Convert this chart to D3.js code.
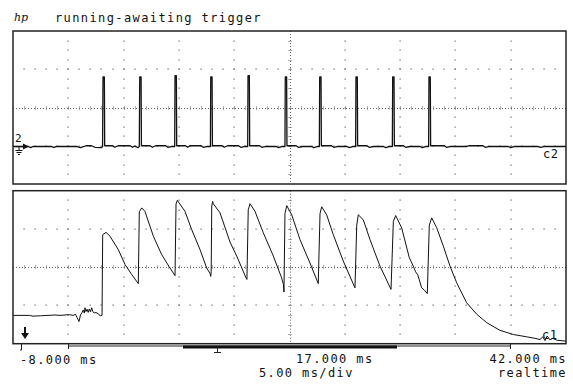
<!DOCTYPE html>
<html><head><meta charset="utf-8">
<script src="https://cdn.jsdelivr.net/npm/d3@7"></script>
<style>
html,body{margin:0;padding:0;background:#fff;}
svg{display:block;}
text{font-family:"DejaVu Sans Mono",monospace;font-size:12px;fill:#111;letter-spacing:1.4px;}
</style></head>
<body>
<svg id="c" width="573" height="385"></svg>
<script>
// ---- data ----
const timeDomain = [-8, 42];          // ms across the screen (5 ms/div)
const voltDomain = [-2, 2];           // divisions
const majorTicks = [-8, -3, 2, 7, 12, 17, 22, 27, 32, 37, 42];
const axisLabels = ["-8.000 ms", "17.000 ms", "42.000 ms"];
const headerText = "running-awaiting trigger";
const scaleText = "5.00 ms/div";
const modeText = "realtime";

// channel 2: stimulus pulses [ms, div]
const ch2 = [
 [-8,-1.02],[-6.6,-1.02],[-6.4,-1.05],[-6.2,-1.02],[-4.5,-1.02],[-4.3,-1.04],[-4.1,-1.02],[-2.2,-1.02],[-1.9,-1.05],[-1.4,-1.0],[-0.9,-1.0],[-0.6,-1.04],[0.0,-1.05],[0.1,-1.02],
 [0.14,0.80],[0.26,0.80],[0.29,-1.0],
 [1.0,-1.0],[1.2,-1.04],[1.5,-1.0],[2.6,-1.0],[2.8,-1.04],[3.0,-1.01],[3.3,-1.05],[3.42,-1.02],
 [3.46,0.80],[3.58,0.80],[3.61,-1.0],
 [4.4,-1.0],[4.6,-1.04],[4.9,-1.0],[5.8,-1.0],[6.0,-1.04],[6.3,-1.02],[6.62,-1.02],
 [6.65,0.83],[6.77,0.83],[6.80,-1.0],
 [7.6,-1.0],[7.8,-1.04],[8.0,-1.0],[9.0,-1.0],[9.2,-1.04],[9.5,-1.02],[9.85,-1.02],
 [9.88,0.80],[10.00,0.80],[10.03,-1.0],
 [10.9,-1.0],[11.1,-1.04],[11.4,-1.0],[12.4,-1.0],[12.6,-1.04],[12.9,-1.02],[13.22,-1.02],
 [13.25,0.83],[13.37,0.83],[13.40,-1.0],
 [14.3,-1.0],[14.5,-1.04],[14.8,-1.02],[15.8,-1.02],[16.0,-1.05],[16.3,-1.02],[16.59,-1.02],
 [16.62,0.80],[16.74,0.80],[16.77,-1.0],
 [17.6,-1.0],[17.8,-1.04],[18.2,-1.02],[19.0,-1.02],[19.2,-1.05],[19.5,-1.02],[19.70,-1.02],
 [19.73,0.80],[19.85,0.80],[19.88,-1.0],
 [20.8,-1.0],[21.0,-1.04],[21.3,-1.02],[22.2,-1.02],[22.4,-1.05],[22.7,-1.02],[22.98,-1.02],
 [23.01,0.80],[23.13,0.80],[23.16,-1.0],
 [24.0,-1.0],[24.2,-1.04],[24.6,-1.02],[25.5,-1.02],[25.7,-1.05],[26.0,-1.02],[26.30,-1.02],
 [26.33,0.80],[26.45,0.80],[26.48,-1.0],
 [27.3,-1.0],[27.5,-1.04],[27.9,-1.02],[28.8,-1.02],[29.0,-1.05],[29.3,-1.02],[29.58,-1.02],
 [29.61,0.80],[29.73,0.80],[29.76,-1.0],
 [31.0,-1.0],[31.2,-1.04],[31.5,-1.02],[33.0,-1.02],[33.2,-1.0],[34.5,-1.0],[34.7,-1.04],[35.0,-1.02],
 [36.8,-1.02],[37.0,-1.05],[37.3,-1.02],[39.5,-1.02],[39.7,-1.04],[40.0,-1.02],[42,-1.02]
];

// channel 1: response [ms, div]
const ch1 = [
 [-8,-1.26],[-6.5,-1.26],[-6.2,-1.28],[-5.5,-1.27],[-4.2,-1.25],[-3.75,-1.26],[-2.9,-1.24],[-2.55,-1.26],
 [-2.35,-1.23],[-2.2,-1.32],[-2.03,-1.42],[-1.9,-1.25],[-1.75,-1.18],[-1.65,-1.12],[-1.55,-1.2],[-1.49,-1.06],
 [-1.4,-1.16],[-1.3,-1.1],[-1.2,-1.18],[-1.1,-1.09],[-1.0,-1.17],[-0.88,-1.06],[-0.8,-1.15],[-0.65,-1.2],
 [-0.5,-1.18],[-0.3,-1.22],[-0.1,-1.27],[0.05,-1.26],
 [0.11,0.85],[0.41,0.91],[0.77,0.81],[1.52,0.46],[2.13,0.07],[2.73,-0.19],[3.33,-0.43],
 [3.42,1.45],[3.64,1.55],[3.93,1.46],[4.69,0.81],[5.44,0.33],[6.1,0.02],[6.65,-0.22],
 [6.74,1.65],[6.86,1.75],[7.55,1.46],[8.16,0.98],[8.91,0.46],[9.51,-0.02],[9.81,-0.16],[9.88,-0.24],[9.92,-0.12],
 [9.97,1.60],[10.05,1.72],[10.11,1.66],[10.72,1.42],[11.62,0.66],[12.23,0.29],[13.07,-0.28],[13.15,-0.32],
 [13.27,1.5],[13.43,1.66],[13.88,1.46],[14.63,0.90],[15.54,0.29],[16.29,-0.28],[16.45,-0.45],[16.50,-0.65],
 [16.59,1.4],[16.75,1.61],[17.2,1.37],[17.95,0.72],[18.85,0.11],[19.6,-0.43],
 [19.76,1.4],[19.91,1.58],[20.36,1.37],[20.96,0.85],[21.86,0.16],[22.92,-0.54],
 [23.08,1.1],[23.22,1.37],[23.67,1.24],[24.28,0.72],[25.18,0.03],[26.18,-0.58],
 [26.39,1.2],[26.6,1.35],[27.14,1.03],[27.83,0.25],[28.19,0.03],[28.4,-0.12],[28.6,-0.2],[28.95,-0.54],[29.2,-0.6],[29.46,-0.69],
 [29.64,1.1],[29.86,1.29],[30.31,1.03],[30.91,0.55],[31.51,0.03],[32.12,-0.41],[33.02,-0.93],[33.93,-1.23],
 [34.83,-1.45],[36.03,-1.65],[37.24,-1.76],[38.45,-1.82],[39.2,-1.86],[39.65,-1.89],[39.9,-1.82],[40.1,-1.92],
 [40.3,-1.8],[40.55,-1.9],[40.8,-1.86],[41.2,-1.91],[41.91,-1.93],[42,-1.93]
];

// memory bar under the screen [ms]
const memoryBar = [-3.03, 36.94];
const viewBar = [7.37, 26.72];
const triggerMark = [10.44];
const leftMark = [-7.28];

// ---- drawing ----
const svg = d3.select("#c");
const x = d3.scaleLinear().domain(timeDomain).range([13, 566]);
const panels = [
  {top: 31, bottom: 184, data: ch2, w: 1.3},
  {top: 190.7, bottom: 343.7, data: ch1, w: 1}
];
const dotColor = "#666";

panels.forEach((p, i) => {
  const y = d3.scaleLinear().domain(voltDomain).range([p.bottom, p.top]);
  p.y = y;
  const g = svg.append("g");
  const vDots = [];
  majorTicks.slice(1, -1).filter(t => t !== 17).forEach(t => {
    d3.range(-1.75, 2, 0.25).forEach(v => vDots.push([t, v]));
  });
  [-1, 1].forEach(v => d3.range(-7, 42, 1).forEach(t => vDots.push([t, v])));
  g.selectAll("rect.dot").data(vDots).join("rect").attr("class","dot")
    .attr("x", d => Math.round(x(d[0])) - 0.5).attr("y", d => Math.round(y(d[1])) - 0.5)
    .attr("width", 1.2).attr("height", 1.2).attr("fill", dotColor);
  const yc = Math.round(y(0)) + 0.5;
  g.append("line").attr("x1", x(-8)).attr("x2", x(42)).attr("y1", yc).attr("y2", yc)
    .attr("stroke", dotColor).attr("stroke-width", 1).attr("stroke-dasharray", "1,2");
  g.selectAll("line.ht").data(d3.range(-7, 42, 1)).join("line").attr("class","ht")
    .attr("x1", d => Math.round(x(d)) + 0.5).attr("x2", d => Math.round(x(d)) + 0.5)
    .attr("y1", yc - 2).attr("y2", yc + 2).attr("stroke", dotColor).attr("stroke-width", 1)
    .attr("stroke-dasharray", "1,1");
  const xc = Math.round(x(17)) + 0.5;
  g.append("line").attr("x1", xc).attr("x2", xc).attr("y1", p.top).attr("y2", p.bottom)
    .attr("stroke", dotColor).attr("stroke-width", 1).attr("stroke-dasharray", "1,2");
  g.selectAll("line.vt").data(d3.range(-1.75, 2, 0.25)).join("line").attr("class","vt")
    .attr("y1", d => Math.round(y(d)) + 0.5).attr("y2", d => Math.round(y(d)) + 0.5)
    .attr("x1", xc - 2).attr("x2", xc + 2).attr("stroke", dotColor).attr("stroke-width", 1)
    .attr("stroke-dasharray", "1,1");
  svg.append("clipPath").attr("id", "cp" + i).append("rect")
    .attr("x", 13).attr("y", p.top).attr("width", 553).attr("height", p.bottom - p.top);
  g.append("path").datum(p.data).attr("clip-path", `url(#cp${i})`)
    .attr("d", d3.line().x(d => x(d[0])).y(d => y(d[1])))
    .attr("fill", "none").attr("stroke", "#111").attr("stroke-width", p.w)
    .attr("stroke-linejoin", "round");
  g.append("rect").attr("x", 13).attr("y", p.top).attr("width", 553).attr("height", p.bottom - p.top)
    .attr("fill", "none").attr("stroke", "#222").attr("stroke-width", 1.5);
});

// header
svg.append("text").attr("x", 14).attr("y", 21).style("font-style", "italic")
  .style("font-family", "DejaVu Serif").style("font-size", "11px").style("letter-spacing", "0px").text("hp");
svg.append("text").attr("x", 55).attr("y", 22).text(headerText);

// channel markers
const yT = panels[0].y, yB = panels[1].y;
const gy = yT(-1.02);
svg.append("text").attr("x", 15).attr("y", gy - 5).style("font-size", "11px").style("letter-spacing", "0px").text("2");
svg.append("path").attr("d", `M15,${gy}H25`).attr("stroke", "#111").attr("stroke-width", 1.2);
svg.append("path").attr("d", `M23,${gy-3}L29,${gy}L23,${gy+3}Z`).attr("fill", "#111");
svg.append("path").attr("d", `M19,${gy}V${gy+4} M15.5,${gy+4}H22.5 M16.5,${gy+6}H21.5 M18,${gy+8}H20`)
  .attr("stroke", "#111").attr("stroke-width", 1);
svg.append("text").attr("x", 543).attr("y", 158).style("letter-spacing", "0.5px").text("c2");
svg.append("text").attr("x", 542).attr("y", 339).style("letter-spacing", "0.5px").text("c1");
svg.append("path").attr("d", `M25,327V334`).attr("stroke", "#111").attr("stroke-width", 2);
svg.append("path").attr("d", `M21,333H29L25,339Z`).attr("fill", "#111");

// memory bar
const barY = 346;
svg.append("line").attr("x1", x(memoryBar[0])).attr("x2", x(memoryBar[1])).attr("y1", barY).attr("y2", barY)
  .attr("stroke", "#222").attr("stroke-width", 1);
svg.append("line").attr("x1", x(viewBar[0])).attr("x2", x(viewBar[1])).attr("y1", barY + 1).attr("y2", barY + 1)
  .attr("stroke", "#111").attr("stroke-width", 3);
svg.selectAll("line.mb").data(memoryBar).join("line").attr("class","mb")
  .attr("x1", d => Math.round(x(d)) + 0.5).attr("x2", d => Math.round(x(d)) + 0.5)
  .attr("y1", 344).attr("y2", 349).attr("stroke", "#222");
svg.selectAll("path.tm").data(triggerMark).join("path").attr("class","tm")
  .attr("d", d => `M${Math.round(x(d)) + 0.5},347V352 M${Math.round(x(d)) - 3},352.5H${Math.round(x(d)) + 4}`)
  .attr("stroke", "#222").attr("stroke-width", 1);
svg.selectAll("path.lm").data(leftMark).join("path").attr("class","lm")
  .attr("d", d => `M${Math.round(x(d)) + 0.5},344V350 M${Math.round(x(d)) - 1},350H${Math.round(x(d)) + 0.5}`)
  .attr("stroke", "#222").attr("stroke-width", 1);

// axis labels
svg.append("text").attr("x", 20).attr("y", 364).text(axisLabels[0]);
svg.append("text").attr("x", 296).attr("y", 363).text(axisLabels[1]);
svg.append("text").attr("x", 567).attr("y", 363).attr("text-anchor", "end").text(axisLabels[2]);
svg.append("text").attr("x", 259).attr("y", 377).text(scaleText);
svg.append("text").attr("x", 567).attr("y", 377).attr("text-anchor", "end").text(modeText);
</script>
</body></html>
